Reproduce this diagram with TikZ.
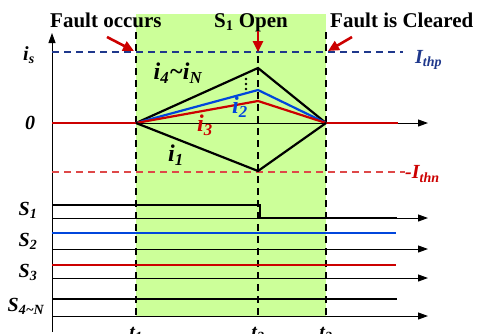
\documentclass[tikz,border=0pt]{standalone}
\usepackage{fontspec}
\setmainfont{Liberation Serif}
\usetikzlibrary{arrows.meta}
\definecolor{LimeFill}{RGB}{204,255,153}
\definecolor{CurRed}{RGB}{204,0,0}
\definecolor{CurBlue}{RGB}{0,70,220}
\definecolor{ThpBlue}{RGB}{31,56,140}
\definecolor{ThnRed}{RGB}{222,72,72}
\tikzset{
  axis/.style={-{Triangle[length=10pt,width=7pt]},line width=1pt},
  tdash/.style={dash pattern=on 7pt off 5pt,line width=1.1pt},
  cur/.style={line width=2.2pt,line join=miter},
  sig/.style={line width=2.2pt,line join=miter},
  lbl/.style={font=\fontsize{20}{22}\selectfont\bfseries\itshape,inner sep=0pt},
  curlbl/.style={font=\fontsize{24}{26}\selectfont\bfseries\itshape,inner sep=0pt},
  headtxt/.style={font=\fontsize{21}{24}\selectfont\bfseries,inner sep=0pt,anchor=base},
  redarrow/.style={-{Triangle[length=11pt,width=10pt]},line width=2.6pt,CurRed}
}

\begin{document}
\begin{tikzpicture}[x=1pt,y=-1pt]
\useasboundingbox (0,0) rectangle (479,333);
\fill[LimeFill] (136,14) rectangle (326,316);
\foreach \x in {136,258,326}
  \draw[tdash] (\x,32) -- (\x,316);

\coordinate (o1) at (136,123);
\coordinate (o3) at (326,123);

\draw[axis] (52,332) -- (52,33);
\foreach \y in {123,218,249,278,316}
  \draw[axis] (52,\y) -- (428,\y);

\draw[tdash,ThpBlue] (52,52) -- (403,52);
\draw[tdash,ThnRed] (52,172) -- (405,172);

\draw[cur,CurRed] (52,123) -- (o1);
\draw[cur,CurRed] (o3) -- (398,123);
\draw[cur] (o1) -- (258,68) -- (o3);
\draw[cur,CurBlue] (o1) -- (258,90) -- (o3);
\draw[cur,CurRed] (o1) -- (258,101) -- (o3);
\draw[cur] (o1) -- (258,171) -- (o3);

\draw[sig] (52,205) -- (260,205) -- (260,218) -- (397,218);
\draw[sig,CurBlue] (52,233) -- (396,233);
\draw[sig,CurRed] (52,265) -- (396,265);
\draw[sig] (52,299) -- (397,299);

\node[lbl] (is) at (29,55) {i\textsubscript{s}};
\node[lbl] (zero) at (30,123) {0};
\node[lbl,ThpBlue,anchor=west] (ithp) at (415,60) {I\textsubscript{thp}};
\node[lbl,CurRed,anchor=west] (ithn) at (405,174) {-I\textsubscript{thn}};
\node[curlbl] (iN) at (178,73) {i\textsubscript{4}\textasciitilde i\textsubscript{N}};
\node[curlbl,CurBlue] (i2) at (240,107) {i\textsubscript{2}};
\node[curlbl,CurRed] (i3) at (205,125) {i\textsubscript{3}};
\node[curlbl] (i1) at (176,155) {i\textsubscript{1}};
\foreach \y in {79,84,89}
  \fill (246,\y) circle (1.3);

\node[lbl] (s1) at (28,210) {S\textsubscript{1}};
\node[lbl] (s2) at (28,241) {S\textsubscript{2}};
\node[lbl] (s3) at (28,272) {S\textsubscript{3}};
\node[lbl] (s4) at (26,306) {S\textsubscript{4\textasciitilde N}};

\node[lbl,anchor=base] (lt1) at (136,338) {t\textsubscript{1}};
\node[lbl,anchor=base] (lt2) at (258,338) {t\textsubscript{2}};
\node[lbl,anchor=base] (lt3) at (326,338) {t\textsubscript{3}};

\node[headtxt,anchor=base west] (fo) at (50,27) {Fault occurs};
\node[headtxt] (so) at (251,27) {S\textsubscript{1} Open};
\node[headtxt,anchor=base west] (fc) at (330,27) {Fault is Cleared};

\coordinate (afo) at (107,37);
\coordinate (aso) at (258,31);
\coordinate (afc) at (352,37);
\draw[redarrow] (afo) -- (134,51);
\draw[redarrow] (aso) -- (258,52);
\draw[redarrow] (afc) -- (328,51);
\end{tikzpicture}
\end{document}
